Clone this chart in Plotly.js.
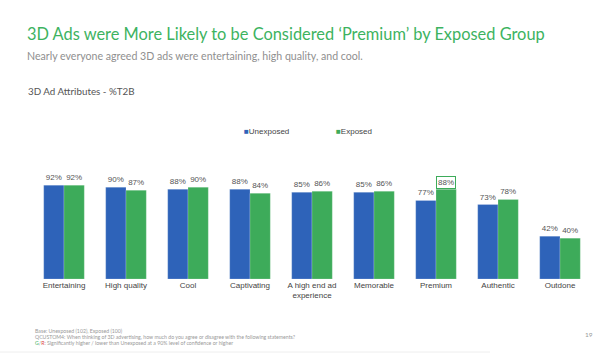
<!DOCTYPE html>
<html>
<head>
<meta charset="utf-8">
<script src="https://cdn.plot.ly/plotly-3.0.1.min.js"></script>
<style>html,body{margin:0;padding:0;background:#fff;}#chart{width:601px;height:360px;}</style>
</head>
<body>
<div id="chart"></div>
<script>
const categories = ["Entertaining", "High quality", "Cool", "Captivating", "A high end ad<br>experience", "Memorable", "Premium", "Authentic", "Outdone"];
const seriesNames = ["Unexposed", "Exposed"];
const unexposed = [92, 90, 88, 88, 85, 85, 77, 73, 42];
const exposed = [92, 87, 90, 84, 86, 86, 88, 78, 40];
const significantExposed = [false, false, false, false, false, false, true, false, false];
const colors = ["#2E63B9", "#3DAB5A"];

const labelFont = {family: "Liberation Sans, Arial, sans-serif", size: 8, color: "#555"};

const traces = [unexposed, exposed].map((vals, i) => ({
  type: "bar",
  name: seriesNames[i],
  x: categories,
  y: vals,
  marker: {color: colors[i], line: {color: "rgba(255,255,255,0.35)", width: 0.6}},
  text: vals.map(v => v + "%"),
  textposition: "outside",
  textfont: labelFont,
  cliponaxis: false,
  showlegend: false,
  hoverinfo: "skip"
}));

const annotations = [];
// legend drawn as text
const legendX = [242, 334];
seriesNames.forEach((n, i) => {
  annotations.push({xref: "paper", yref: "paper", x: (legendX[i] - 33) / 558, y: (279 - 131) / 102,
    xanchor: "left", yanchor: "middle", showarrow: false,
    text: '<span style="color:' + colors[i] + '">■</span>' + n,
    font: {family: "Liberation Sans, Arial, sans-serif", size: 8, color: "#444"}});
});
// significance box
significantExposed.forEach((s, i) => {
  if (s) {
    annotations.push({x: categories[i], y: exposed[i], xref: "x", yref: "y", xshift: 10, yshift: 7,
      showarrow: false, text: exposed[i] + "%", bgcolor: "#fff", bordercolor: colors[1], borderwidth: 1, borderpad: 1,
      font: labelFont});
  }
});
// titles and notes
const txt = (x, y, t, size, color, family) => ({xref: "paper", yref: "paper", x: (x - 33) / 558, y: (279 - y) / 102,
  xanchor: "left", yanchor: "middle", showarrow: false, text: t,
  font: {family: family || "Lato, Open Sans, sans-serif", size: size, color: color}});
annotations.push(txt(25, 33, "3D Ads were More Likely to be Considered ‘Premium’ by Exposed Group", 16.4, "#3DB35F"));
annotations.push(txt(25, 56, "Nearly everyone agreed 3D ads were entertaining, high quality, and cool.", 10.6, "#8f8f8f"));
annotations.push(txt(26, 91, "3D Ad Attributes - %T2B", 9.8, "#555"));
annotations.push(txt(33, 331, "Base: Unexposed (102), Exposed (100)", 5.2, "#999", "Lato, sans-serif"));
annotations.push(txt(33, 337, "QCUSTOM4: When thinking of 3D advertising, how much do you agree or disagree with the following statements?", 5.2, "#999", "Lato, sans-serif"));
annotations.push(txt(33, 343, "<span style=\"color:#3DB35F\">G</span>/<span style=\"color:#d44\">R</span>: Significantly higher / lower than Unexposed at a 90% level of confidence or higher", 5.2, "#999", "Lato, sans-serif"));
annotations.push(txt(583, 334, "19", 6.5, "#999", "Lato, sans-serif"));

const layout = {
  width: 601, height: 360,
  margin: {l: 33, r: 10, t: 177, b: 81},
  paper_bgcolor: "#fff", plot_bgcolor: "#fff",
  barmode: "group", bargap: 0.345, bargroupgap: 0,
  showlegend: false,
  xaxis: {tickfont: {family: "Liberation Sans, Arial, sans-serif", size: 8, color: "#444"}, showline: false, ticks: "", showgrid: false, fixedrange: true, automargin: false},
  yaxis: {range: [0, 100], visible: false, showgrid: false, zeroline: false, fixedrange: true},
  annotations: annotations,
  shapes: [{type: "line", xref: "paper", yref: "paper", x0: -33 / 558, x1: (490 - 33) / 558, y0: (279 - 352) / 102, y1: (279 - 352) / 102, line: {color: "#eee", width: 1}}]
};

Plotly.newPlot("chart", traces, layout, {displayModeBar: false, staticPlot: true});
</script>
</body>
</html>
